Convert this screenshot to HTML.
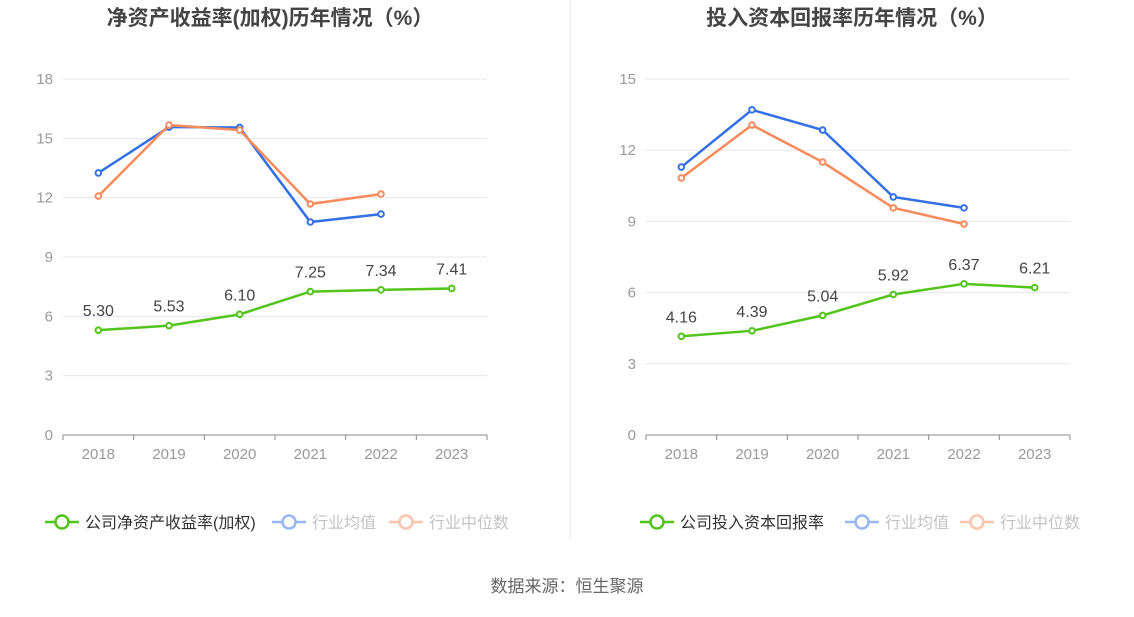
<!DOCTYPE html>
<html><head><meta charset="utf-8"><style>
body{margin:0;background:#fff;width:1134px;height:612px;overflow:hidden;font-family:"Liberation Sans","Noto Sans CJK SC",sans-serif}
</style></head><body>
<svg id="s" width="1134" height="612" xmlns="http://www.w3.org/2000/svg">
<line x1="570" y1="0" x2="570" y2="540" stroke="#e8e8e8"/>
<text x="270" y="25" text-anchor="middle" font-size="21" font-weight="bold" fill="#444">净资产收益率(加权)历年情况（%）</text>
<text x="852" y="25" text-anchor="middle" font-size="21" font-weight="bold" fill="#444">投入资本回报率历年情况（%）</text>
<text x="567" y="592" text-anchor="middle" font-size="17" fill="#666">数据来源：恒生聚源</text>
</svg>
<script>
const years=["2018","2019","2020","2021","2022","2023"];
const roeCompany=[5.30,5.53,6.10,7.25,7.34,7.41];
const roeAvg=[13.25,15.57,15.55,10.77,11.17];
const roeMedian=[12.08,15.67,15.42,11.68,12.18];
const roeTicks=[0,3,6,9,12,15,18];
const roicCompany=[4.16,4.39,5.04,5.92,6.37,6.21];
const roicAvg=[11.29,13.7,12.85,10.03,9.57];
const roicMedian=[10.83,13.06,11.5,9.57,8.89];
const roicTicks=[0,3,6,9,12,15];
const NS="http://www.w3.org/2000/svg";const svg=document.getElementById('s');
function el(t,a,p){const e=document.createElementNS(NS,t);for(const k in a)e.setAttribute(k,a[k]);(p||svg).appendChild(e);return e;}
function chart(x0,x1,ticks,comp,avg,med,prefix,compName,legX){
 const y0=435,y1=79,max=ticks[ticks.length-1];
 const bw=(x1-x0)/years.length;
 const X=i=>x0+bw*(i+0.5);const Y=v=>y0-(v/max)*(y0-y1);
 const g=el('g',{});
 ticks.forEach(t=>{
  if(t>0){const l=el('line',{x1:x0,x2:x1,y1:Y(t),y2:Y(t),stroke:'#e4e7ef'},g);}
  const tx=el('text',{x:x0-10,y:Y(t)+5,'text-anchor':'end','font-size':15,fill:'#999'},g);tx.textContent=t;
  
 });
 const ax=el('line',{x1:x0,x2:x1,y1:y0,y2:y0,stroke:'#888'},g);
 years.forEach((y,i)=>{
  el('line',{x1:X(i)-bw/2,x2:X(i)-bw/2,y1:y0,y2:y0+5,stroke:'#888'},g);
  const tx=el('text',{x:X(i),y:y0+24,'text-anchor':'middle','font-size':15,fill:'#999'},g);tx.textContent=y;
  
 });
 el('line',{x1:x1,x2:x1,y1:y0,y2:y0+5,stroke:'#888'},g);
 function series(d,c,name,labels){
  const p=el('polyline',{points:d.map((v,i)=>X(i)+','+Y(v)).join(' '),fill:'none',stroke:c,'stroke-width':2.5},g);
  
  d.forEach((v,i)=>{const c2=el('circle',{cx:X(i),cy:Y(v),r:2.8,fill:'#fff',stroke:c,'stroke-width':2},g);
   
   if(labels){const t=el('text',{x:X(i),y:Y(v)-14,'text-anchor':'middle','font-size':16,fill:'#444'},g);t.textContent=v.toFixed(2);
    }});
 }
 series(avg,'#3370e6','industry-average');series(med,'#f98a5b','industry-median');series(comp,'#52c41a','company',true);
 const lg=[[compName,'#52c41a',null],['行业均值','#3370e6',0.5],['行业中位数','#f98a5b',0.5]];
 lg.forEach(([n,c,o],k)=>{
  const lx=legX[k];
  const gg=el('g',{opacity:o||1},g);
  el('line',{x1:lx,x2:lx+34,y1:522,y2:522,stroke:c,'stroke-width':2.5},gg);
  el('circle',{cx:lx+17,cy:522,r:6.5,fill:'#fff',stroke:c,'stroke-width':2.5},gg);
  const t=el('text',{x:lx+40,y:528,'font-size':16,fill:o?'#888':'#333'},gg);t.textContent=n;
 });
}
chart(63,487,roeTicks,roeCompany,roeAvg,roeMedian,'roe','公司净资产收益率(加权)',[45,272,389]);
chart(646,1070,roicTicks,roicCompany,roicAvg,roicMedian,'roic','公司投入资本回报率',[640,845,960]);
</script>
</body></html>
